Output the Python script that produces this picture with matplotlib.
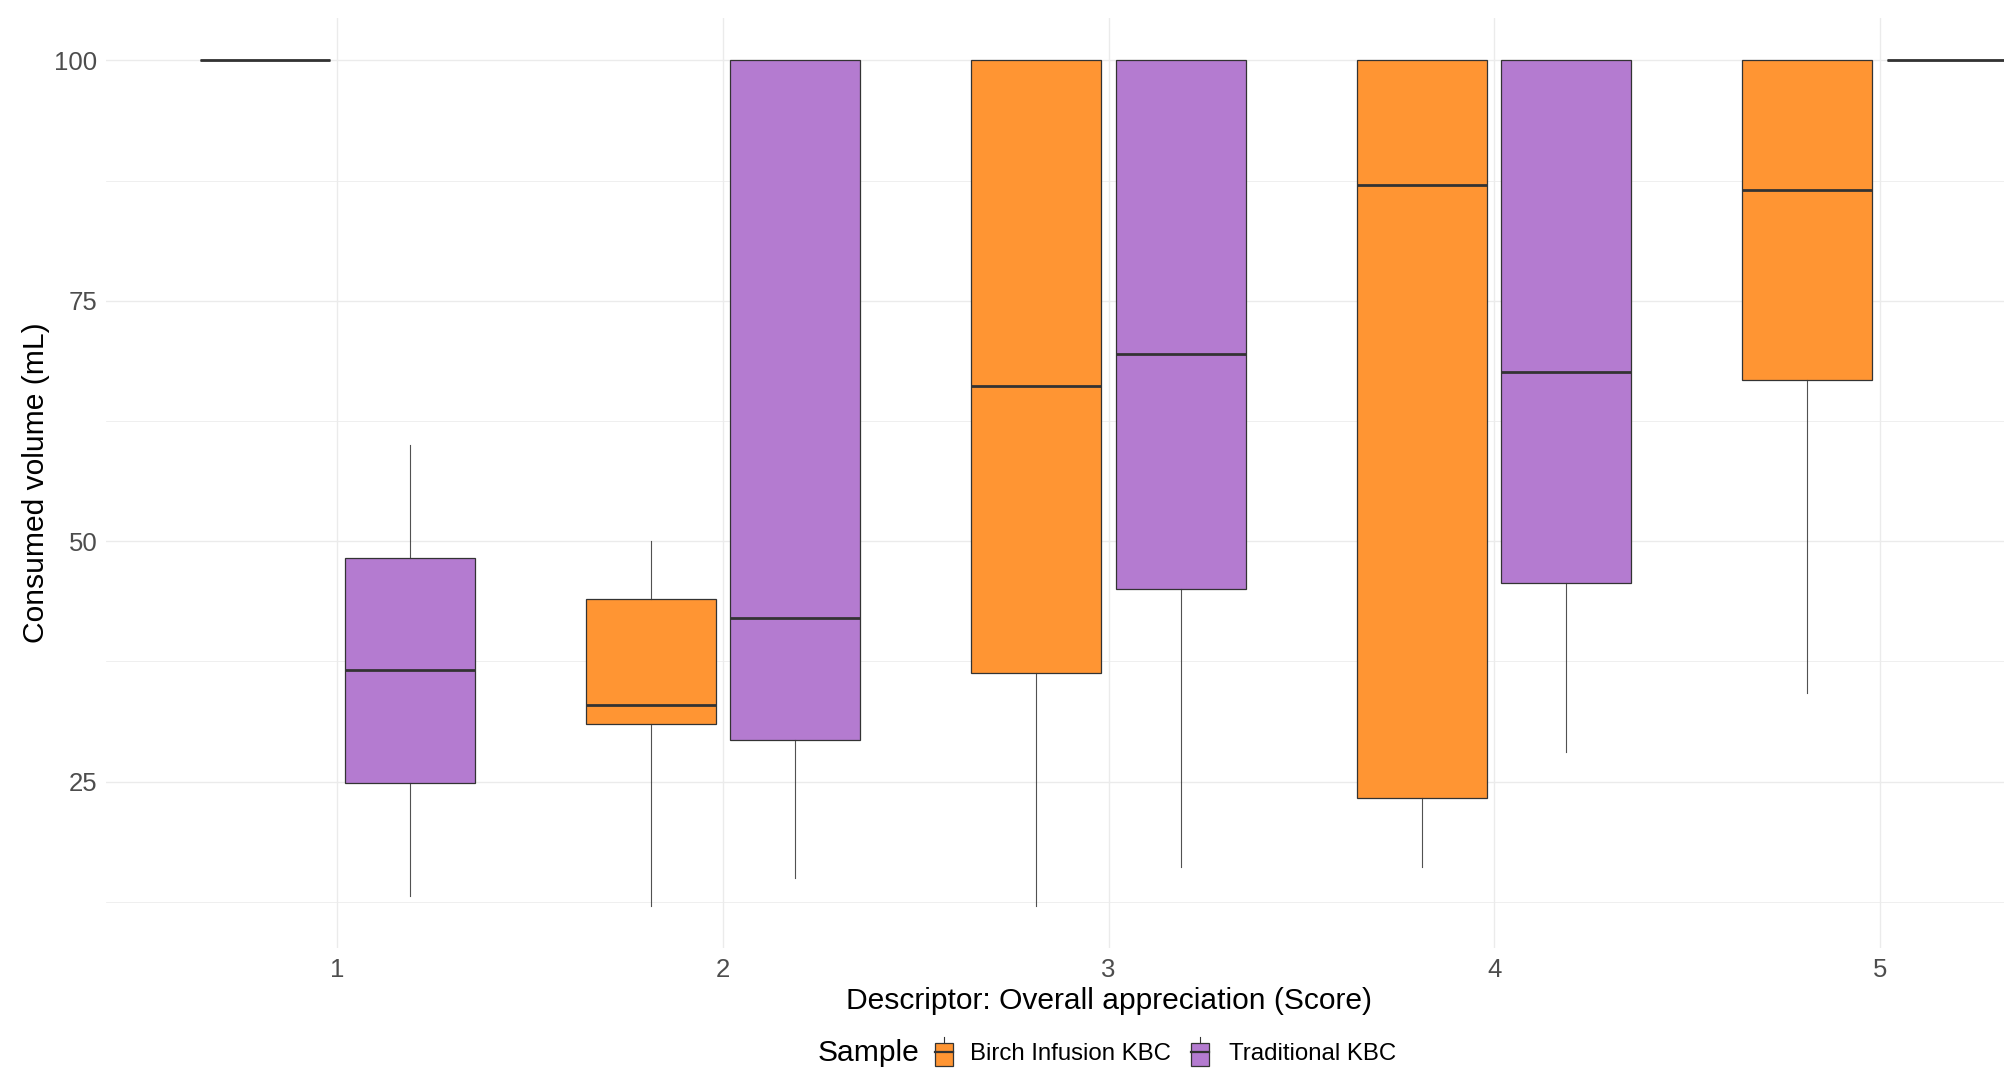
import matplotlib
matplotlib.use("Agg")
import matplotlib.pyplot as plt
from matplotlib.patches import Rectangle
from matplotlib.lines import Line2D

plt.rcParams['font.family'] = ['Liberation Sans', 'DejaVu Sans']

# ---- data ----
scores = [1, 2, 3, 4, 5]
score_labels = ["1", "2", "3", "4", "5"]
samples = ["Birch Infusion KBC", "Traditional KBC"]
colors = ["#FF9533", "#B47BD0"]

birch_whislo = [100, 12.1, 12.1, 16.1, 34.2]
birch_q1 = [100, 31.0, 36.3, 23.3, 66.8]
birch_med = [100, 33.0, 66.1, 87.0, 86.5]
birch_q3 = [100, 44.0, 100, 100, 100]
birch_whishi = [100, 50.0, 100, 100, 100]

trad_whislo = [13.1, 15.0, 16.1, 28.1, 100]
trad_q1 = [24.9, 29.3, 45.0, 45.7, 100]
trad_med = [36.6, 42.0, 69.5, 67.6, 100]
trad_q3 = [48.3, 100, 100, 100, 100]
trad_whishi = [60.0, 100, 100, 100, 100]

y_ticks = [25, 50, 75, 100]
y_minor = [12.5, 37.5, 62.5, 87.5]
x_label = "Descriptor: Overall appreciation (Score)"
y_label = "Consumed volume (mL)"
legend_title = "Sample"

# ---- figure ----
W, H = 2004, 1070
fig = plt.figure(figsize=(W / 100, H / 100), dpi=100)
pl, pr, pt, pb = 106, 2111, 18, 948
ax = fig.add_axes([pl / W, (H - pb) / H, (pr - pl) / W, (pb - pt) / H])

dodge = 0.1875
bw = 0.3375
edge = "#333333"


def stats(lo, q1, med, q3, hi):
    return [dict(whislo=a, q1=b, med=c, q3=d, whishi=e, fliers=[])
            for a, b, c, d, e in zip(lo, q1, med, q3, hi)]


series = [
    stats(birch_whislo, birch_q1, birch_med, birch_q3, birch_whishi),
    stats(trad_whislo, trad_q1, trad_med, trad_q3, trad_whishi),
]
offsets = [-dodge, dodge]
for st, off, col in zip(series, offsets, colors):
    ax.bxp(st, positions=[s + off for s in scores], widths=bw,
           patch_artist=True, showcaps=False, showfliers=False,
           boxprops=dict(facecolor=col, edgecolor=edge, linewidth=0.9),
           whiskerprops=dict(color=edge, linewidth=0.8, alpha=0.85),
           medianprops=dict(color=edge, linewidth=2.0, solid_capstyle='butt'),
           manage_ticks=False)

all_lo = min(birch_whislo + trad_whislo)
all_hi = max(birch_whishi + trad_whishi)
rng = all_hi - all_lo
ax.set_ylim(all_lo - 0.05 * rng, all_hi + 0.05 * rng)
ax.set_xlim(0.4, 5.6)

ax.set_xticks(scores)
ax.set_xticklabels(score_labels)
ax.set_yticks(y_ticks)
ax.set_yticks(y_minor, minor=True)
ax.tick_params(axis='both', which='both', length=0, labelsize=18.5,
               labelcolor="#4D4D4D")
ax.tick_params(axis='y', pad=6.2)
ax.tick_params(axis='x', pad=7.0)
ax.grid(True, which='major', color="#EBEBEB", linewidth=1.0)
ax.grid(True, which='minor', axis='y', color="#EBEBEB", linewidth=0.55)
ax.set_axisbelow(True)
for sp in ax.spines.values():
    sp.set_visible(False)

ax.set_xlabel(x_label, fontsize=21.6, color="black")
ax.set_ylabel(y_label, fontsize=21.6, color="black")
ax.xaxis.label.set_va('center')
ax.yaxis.label.set_va('center')
ax.xaxis.set_label_coords(0.5, (pb - 1001) / (pb - pt))
ax.yaxis.set_label_coords((36 - pl) / (pr - pl), 0.5)

# ---- legend (bottom) ----
def fx(px):
    return px / W


def fy(py):
    return (H - py) / H


fig.text(fx(818), fy(1061), legend_title, fontsize=21.6, ha='left', va='baseline')
key_lefts = [935, 1191]
text_lefts = [970, 1229]
for kl, tl, col, lab in zip(key_lefts, text_lefts, colors, samples):
    fig.add_artist(Rectangle((fx(kl), fy(1066)), 18 / W, 23 / H,
                             facecolor=col, edgecolor=edge, linewidth=0.9,
                             transform=fig.transFigure))
    fig.add_artist(Line2D([fx(kl), fx(kl + 18)], [fy(1052), fy(1052)],
                          color=edge, linewidth=1.6, transform=fig.transFigure))
    fig.add_artist(Line2D([fx(kl + 9), fx(kl + 9)], [fy(1043), fy(1037)],
                          color=edge, linewidth=0.8, transform=fig.transFigure))
    fig.text(fx(tl), fy(1060), lab, fontsize=17.3, ha='left', va='baseline')

fig.savefig("out.png", dpi=100, facecolor="white")
